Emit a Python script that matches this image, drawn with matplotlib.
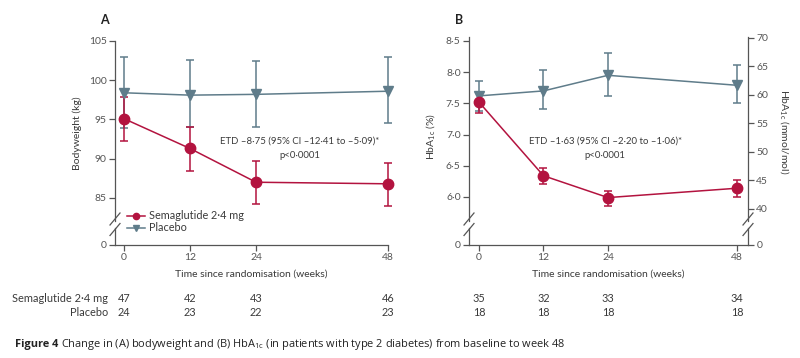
import numpy as np
import matplotlib
matplotlib.use("Agg")
import matplotlib.pyplot as plt
from matplotlib.lines import Line2D

plt.rcParams['font.family'] = ['Lato', 'DejaVu Sans']
plt.rcParams['mathtext.fontset'] = 'custom'
plt.rcParams['mathtext.rm'] = 'Lato'
plt.rcParams['mathtext.it'] = 'Lato:italic'

# ---------------- data ----------------
weeks = [0, 12, 24, 48]
tick_labels_x = ["0", "12", "24", "48"]

# Panel A: bodyweight (kg)
bw_sema = [95.1, 91.3, 87.0, 86.8]
bw_sema_lo = [92.3, 88.4, 84.2, 84.0]
bw_sema_hi = [97.8, 94.1, 89.7, 89.5]
bw_plac = [98.4, 98.1, 98.2, 98.6]
bw_plac_lo = [93.9, 94.0, 94.0, 94.6]
bw_plac_hi = [102.9, 102.6, 102.5, 103.0]

# Panel B: HbA1c (%)
hb_sema = [7.52, 6.34, 5.99, 6.14]
hb_sema_lo = [7.34, 6.21, 5.85, 6.00]
hb_sema_hi = [7.69, 6.47, 6.10, 6.27]
hb_plac = [7.62, 7.70, 7.95, 7.79]
hb_plac_lo = [7.38, 7.41, 7.62, 7.51]
hb_plac_hi = [7.86, 8.04, 8.31, 8.11]

n_sema_A = [47, 42, 43, 46]
n_plac_A = [24, 23, 22, 23]
n_sema_B = [35, 32, 33, 34]
n_plac_B = [18, 18, 18, 18]

yticks_A = [0, 85, 90, 95, 100, 105]
yticks_B = [0, 6.0, 6.5, 7.0, 7.5, 8.0, 8.5]
yticks_B2 = [0, 40, 45, 50, 55, 60, 65, 70]

series_names = ["Semaglutide 2\u00b74 mg", "Placebo"]

RED = "#b3133f"
BLUE = "#5f7c8a"
GREY = "#555555"
TXT = "#3a3a3a"

W, H = 800, 358
fig = plt.figure(figsize=(8, 3.58), dpi=100)


def fig_rect(l, t, r, b):
    return [l / W, 1 - b / H, (r - l) / W, (b - t) / H]


def fx(px):
    return px / W


def fy(py):
    return 1 - py / H


def make_scale(brk, base):
    # piecewise linear: values >= brk kept, [0, brk) compressed to [base, brk)
    def fwd(y):
        y = np.asarray(y, dtype=float)
        return np.where(y >= brk, y, base + (brk - base) * y / brk)

    def inv(t):
        t = np.asarray(t, dtype=float)
        return np.where(t >= brk, t, (t - base) * brk / (brk - base))
    return fwd, inv


def fmt(v):
    return ("%.1f" % v).replace(".", "\u00b7")


def draw_break(ax, xfrac, hpx, wpx):
    b = 245
    g1 = (b - 228.0) / hpx
    g2 = (b - 221.0) / hpx
    kw = dict(transform=ax.transAxes, color=GREY, lw=0.9, clip_on=False)
    ax.add_line(Line2D([xfrac, xfrac], [0, g1], **kw))
    ax.add_line(Line2D([xfrac, xfrac], [g2, 1], **kw))
    dx = 5 / wpx
    dy = 6 / hpx
    for cy in (219, 229.5):
        yc = (b - cy) / hpx
        ax.add_line(Line2D([xfrac - dx, xfrac + dx], [yc - dy, yc + dy], **kw))


def style_axis(ax):
    for s in ("top", "right", "left"):
        ax.spines[s].set_visible(False)
    ax.spines["bottom"].set_color(GREY)
    ax.spines["bottom"].set_linewidth(0.9)
    ax.tick_params(axis="both", direction="out", length=4, width=0.9,
                   color=GREY, labelcolor=GREY, labelsize=7.5, pad=2)


def plot_series(ax, x, y, lo, hi, color, marker, ms):
    y = np.asarray(y)
    yerr = [y - np.asarray(lo), np.asarray(hi) - y]
    ax.errorbar(x, y, yerr=yerr, color=color, marker=marker, ms=ms,
                lw=1.1, elinewidth=1.1, capsize=3, capthick=1.1,
                clip_on=False, zorder=3)


LAB = 7.5
ANN = 6.9

# ---------------- Panel A ----------------
axA = fig.add_axes(fig_rect(115, 41, 388, 245))
fA, iA = make_scale(82.0, 79.0)
axA.set_yscale("function", functions=(fA, iA))
axA.set_ylim(0, 105)
axA.set_xlim(-1.64, 48)
style_axis(axA)
plot_series(axA, weeks, bw_plac, bw_plac_lo, bw_plac_hi, BLUE, "v", 6.5)
plot_series(axA, weeks, bw_sema, bw_sema_lo, bw_sema_hi, RED, "o", 7.5)
axA.set_yticks(yticks_A)
axA.set_yticklabels([("%d" % v) for v in yticks_A])
axA.set_xticks(weeks)
axA.set_xticklabels(tick_labels_x)
axA.set_xlabel("Time since randomisation (weeks)", fontsize=LAB, color=TXT, labelpad=5)
fig.text(fx(77), fy(133), "Bodyweight (kg)", rotation=90, ha="center", va="center",
         fontsize=LAB, color=TXT)
draw_break(axA, 0, 204, 273)
axA.text(32, 92.25, "ETD \u20138\u00b775 (95% CI \u201312\u00b741 to \u20135\u00b709)*",
         ha="center", va="center", fontsize=ANN, color=TXT)
axA.text(32, 90.35, "p<0\u00b70001", ha="center", va="center", fontsize=ANN, color=TXT)
handles = [Line2D([], [], color=RED, marker="o", ms=4.5, lw=1.1),
           Line2D([], [], color=BLUE, marker="v", ms=4.5, lw=1.1)]
leg = axA.legend(handles, series_names, loc="upper left",
                 bbox_to_anchor=(0.043, 0.17),
                 frameon=False, fontsize=7.8, handlelength=1.7, handletextpad=0.35,
                 labelspacing=0.1, borderpad=0, borderaxespad=0)
for t in leg.get_texts():
    t.set_color(TXT)
fig.text(fx(100), fy(20), "A", fontsize=9, fontweight="bold", color="#222222",
         ha="left", va="center")

# ---------------- Panel B ----------------
axB = fig.add_axes(fig_rect(469, 37, 748, 245))
fB, iB = make_scale(5.5, 5.23)
axB.set_yscale("function", functions=(fB, iB))
top_pct = 8.564
axB.set_ylim(0, top_pct)
axB.set_xlim(-1.86, 50.05)
style_axis(axB)
plot_series(axB, weeks, hb_plac, hb_plac_lo, hb_plac_hi, BLUE, "v", 6.5)
plot_series(axB, weeks, hb_sema, hb_sema_lo, hb_sema_hi, RED, "o", 7.5)
axB.set_yticks(yticks_B)
axB.set_yticklabels([fmt(v) if v else "0" for v in yticks_B])
axB.set_xticks(weeks)
axB.set_xticklabels(tick_labels_x)
axB.set_xlabel("Time since randomisation (weeks)", fontsize=LAB, color=TXT, labelpad=5)
fig.text(fx(431), fy(137), r"HbA$_{\mathregular{1c}}$ (%)", rotation=90,
         ha="center", va="center", fontsize=LAB, color=TXT)
draw_break(axB, 0, 208, 279)
axB.text(23.5, 6.89, "ETD \u20131\u00b763 (95% CI \u20132\u00b720 to \u20131\u00b706)*",
         ha="center", va="center", fontsize=ANN, color=TXT)
axB.text(23.5, 6.67, "p<0\u00b70001", ha="center", va="center", fontsize=ANN, color=TXT)
fig.text(fx(455), fy(20), "B", fontsize=9, fontweight="bold", color="#222222",
         ha="left", va="center")

axB2 = axB.twinx()
fB2, iB2 = make_scale(36.0, 33.66)
axB2.set_yscale("function", functions=(fB2, iB2))
axB2.set_ylim(0, 10.929 * top_pct - 23.5)
for s in ("top", "left", "bottom", "right"):
    axB2.spines[s].set_visible(False)
axB2.tick_params(axis="y", direction="out", length=4, width=0.9,
                 color=GREY, labelcolor=GREY, labelsize=7.5, pad=2)
axB2.set_yticks(yticks_B2)
axB2.set_yticklabels([str(v) for v in yticks_B2])
fig.text(fx(784), fy(132), r"HbA$_{\mathregular{1c}}$ (mmol/mol)", rotation=270,
         ha="center", va="center", fontsize=LAB, color=TXT)
draw_break(axB2, 1, 208, 279)

# ---------------- number at risk table ----------------
fig.canvas.draw()


def table_row(ax, vals, ypx):
    for x, v in zip(weeks, vals):
        xd = ax.transData.transform((x, 1))[0]
        fig.text(xd / W, fy(ypx), str(v), ha="center", va="center",
                 fontsize=7.8, color=TXT)


table_row(axA, n_sema_A, 298)
table_row(axA, n_plac_A, 312)
table_row(axB, n_sema_B, 298)
table_row(axB, n_plac_B, 312)
fig.text(fx(108), fy(298), series_names[0], ha="right", va="center", fontsize=7.9, color=TXT)
fig.text(fx(108), fy(312), series_names[1], ha="right", va="center", fontsize=7.9, color=TXT)

# ---------------- caption ----------------
cap1 = fig.text(fx(15), fy(345), "Figure 4", ha="left", va="center",
                fontsize=7.95, fontweight="bold", color="#222222", family=["Open Sans", "DejaVu Sans"])
fig.canvas.draw()
bb = cap1.get_window_extent()
fig.text((bb.x1 + 3) / W, fy(345),
         r"Change in (A) bodyweight and (B) HbA$_{\mathregular{1c}}$ (in patients with type 2 diabetes) from baseline to week 48",
         ha="left", va="center", fontsize=7.95, color="#222222", family=["Open Sans", "DejaVu Sans"])

fig.savefig("out.png", dpi=100)
